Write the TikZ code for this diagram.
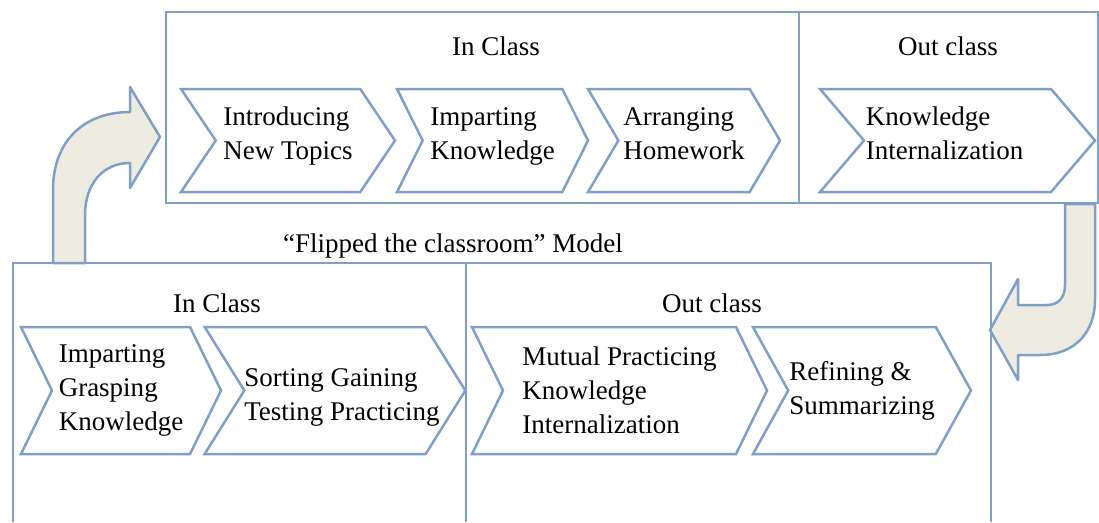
\documentclass[tikz,border=0pt]{standalone}
\usepackage{fontspec}
\setmainfont{Liberation Serif}
\usetikzlibrary{shapes.symbols}
\definecolor{lineblue}{RGB}{126,160,200}
\definecolor{arrowfill}{RGB}{238,236,225}

\begin{document}
\begin{tikzpicture}[x=1pt,y=-1pt,
    txt/.style={font=\fontsize{27}{34}\selectfont, inner sep=0pt},
    stage/.style={txt, signal, signal from=west, signal to=east,
      draw=lineblue, line width=2.5pt, align=left},
    toprow/.style={stage, minimum height=103pt, text depth=14pt},
    botrow/.style={stage, minimum height=127pt},
    panel/.style={draw=lineblue, line width=2.5pt},
    bendarrow/.style={draw=lineblue, fill=arrowfill, line width=2.5pt, line join=round}]
  \useasboundingbox (0,0) rectangle (1099,522);

  % bent arrows
  \path[bendarrow] (53,263) -- (53,190) .. controls (53,140) and (85,112) .. (130,112)
    -- (130,87) -- (160,137) -- (130,188) -- (130,163)
    .. controls (102,163) and (85,185) .. (85,215) -- (85,263) -- cycle;
  \path[bendarrow] (1065,204) -- (1065,285) .. controls (1065,298) and (1058,305) .. (1047,305)
    -- (1018,305) -- (1018,279) -- (990,330) -- (1018,380) -- (1018,355) -- (1040,355)
    .. controls (1075,355) and (1095,332) .. (1095,300) -- (1095,204) -- cycle;

  % traditional model
  \draw[panel] (166,12) rectangle (1098,203);
  \draw[panel] (799,12) -- (799,203);
  \node[txt, anchor=base] (topin) at (496,55) {In Class};
  \node[txt, anchor=base] (topout) at (948,55) {Out class};

  \node[toprow, minimum width=214pt, signal pointer angle=112] (intro) at (288,140.5) {Introducing\\New Topics};
  \node[toprow, minimum width=191pt, signal pointer angle=127] (impart) at (492.5,140.5) {Imparting\\Knowledge};
  \node[toprow, minimum width=192pt, signal pointer angle=119] (arrange) at (684,140.5) {Arranging\\Homework};
  \node[toprow, minimum width=275pt, signal pointer angle=99, inner xsep=-12pt] (intern) at (957.5,140.5) {Knowledge\\Internalization\hspace*{26pt}};

  % flipped model
  \node[txt, anchor=base] (title) at (453,252) {``Flipped the classroom'' Model};
  \draw[panel] (13,522) -- (13,263) -- (991,263) -- (991,522);
  \draw[panel] (466,263) -- (466,522);
  \node[txt, anchor=base] (botin) at (217,312) {In Class};
  \node[txt, anchor=base] (botout) at (712,312) {Out class};

  \node[botrow, minimum width=200pt, signal pointer angle=128] (grasp) at (121,390.5) {Imparting\\Grasping\\Knowledge};
  \node[botrow, minimum width=256pt, signal pointer angle=116, inner xsep=-14pt, text height=66pt] (sort) at (335,390.5) {\hspace*{14pt}Sorting Gaining\\\hspace*{14pt}Testing Practicing};
  \node[botrow, minimum width=295pt, signal pointer angle=128] (mutual) at (619.5,390.5) {Mutual Practicing\\Knowledge\\Internalization};
  \node[botrow, minimum width=218pt, signal pointer angle=122] (refine) at (862,390.5) {Refining \&\\Summarizing};
\end{tikzpicture}
\end{document}
